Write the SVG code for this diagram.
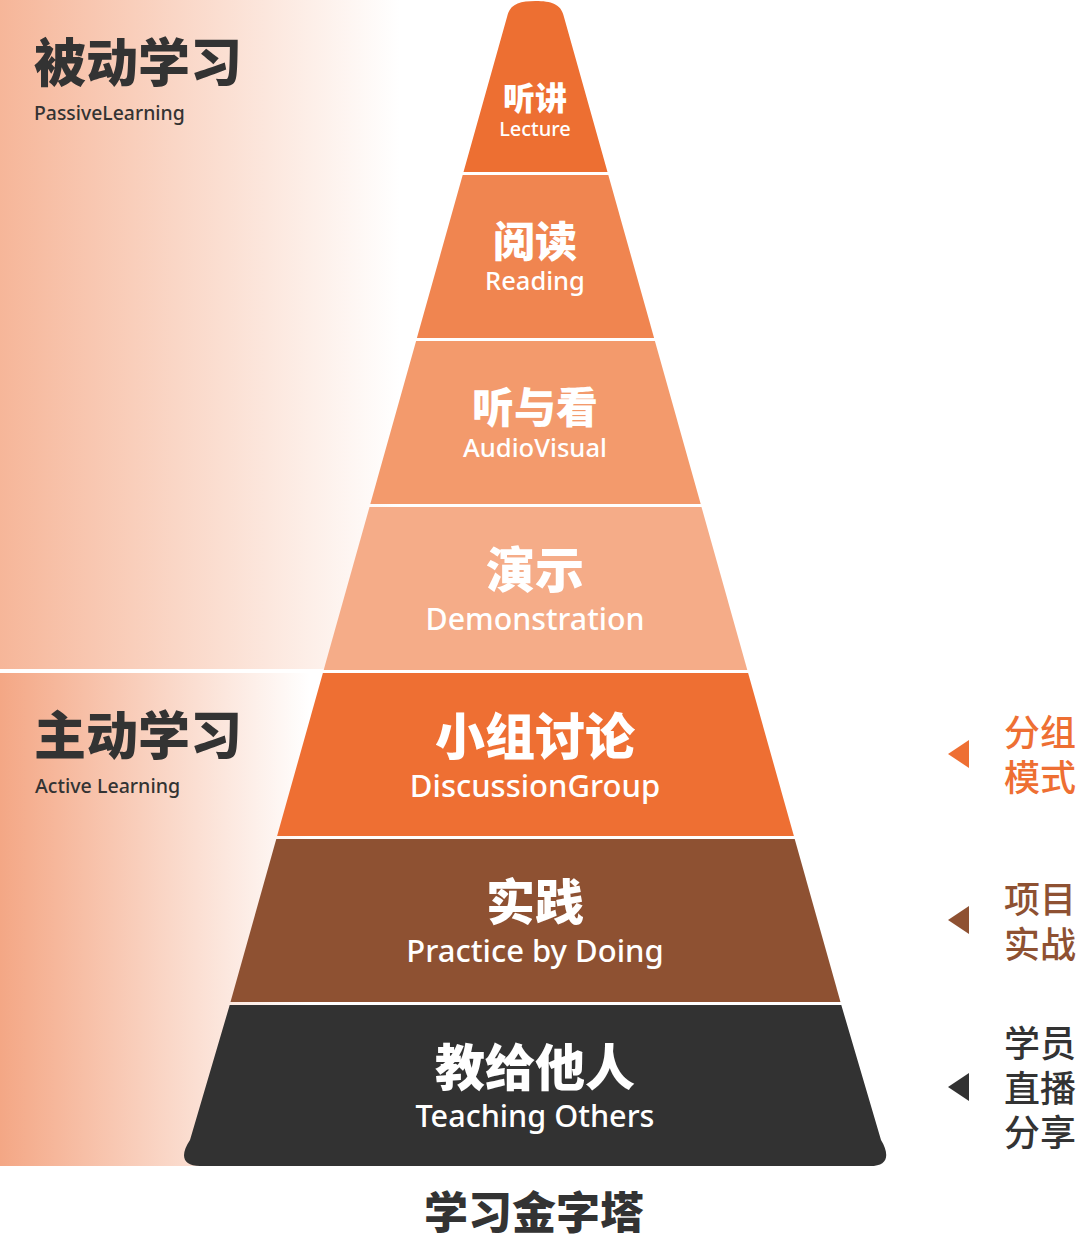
<svg xmlns="http://www.w3.org/2000/svg" width="1080" height="1236" viewBox="0 0 1080 1236">
<defs>
<linearGradient id="bgTop" x1="0" y1="0" x2="1" y2="0">
<stop offset="0" stop-color="#F6B699"/>
<stop offset="1" stop-color="#FFFFFF"/>
</linearGradient>
<linearGradient id="bgBot" x1="0" y1="0" x2="1" y2="0">
<stop offset="0" stop-color="#F4A785"/>
<stop offset="1" stop-color="#FFFFFF"/>
</linearGradient>
<style>
.cn{font-family:"Noto Sans CJK SC",sans-serif;font-weight:900;}
.en{font-family:"Noto Sans","Noto Sans CJK SC",sans-serif;font-weight:500;}
.side{font-family:"Noto Sans CJK SC",sans-serif;font-weight:500;font-size:36px;}
.w{fill:#FFFFFF;text-anchor:middle;}
.dk{fill:#333333;}
</style>
</defs>
<rect width="1080" height="1236" fill="#FFFFFF"/>
<g id="background">
<rect x="0" y="0" width="400" height="669" fill="url(#bgTop)"/>
<rect x="0" y="673" width="310" height="493" fill="url(#bgBot)"/>
</g>
<g id="passive">
<text class="cn dk" x="34" y="82" font-size="52">被动学习</text>
<text class="en dk" x="34" y="120" font-size="19.4" font-weight="400">PassiveLearning</text>
</g>
<g id="active">
<text class="cn dk" x="34" y="755" font-size="52">主动学习</text>
<text class="en dk" x="35" y="793" font-size="19.6" font-weight="400">Active Learning</text>
</g>
<g id="tier1">
<path d="M463.5,172 L507.3,16 C510,4 520,1 535.5,1 C551,1 561,4 563.7,16 L607.5,172 Z" fill="#ED6F32"/>
<text class="cn w" x="535" y="110" font-size="32">听讲</text>
<text class="en w" x="535" y="136" font-size="20">Lecture</text>
</g>
<g id="tier2">
<path d="M462.7,175 L608.3,175 L654.1,338 L416.9,338 Z" fill="#F08550"/>
<text class="cn w" x="535" y="257" font-size="42">阅读</text>
<text class="en w" x="535" y="290" font-size="25.5">Reading</text>
</g>
<g id="tier3">
<path d="M416.1,341 L654.9,341 L700.7,504 L370.3,504 Z" fill="#F39A6C"/>
<text class="cn w" x="535" y="423" font-size="42">听与看</text>
<text class="en w" x="535" y="457" font-size="25.6">AudioVisual</text>
</g>
<g id="tier4">
<path d="M369.5,507 L701.5,507 L747.3,670 L323.7,670 Z" fill="#F5AC88"/>
<text class="cn w" x="535" y="588" font-size="49">演示</text>
<text class="en w" x="535" y="630" font-size="30.3">Demonstration</text>
</g>
<g id="tier5">
<path d="M322.9,673 L748.1,673 L793.9,836 L277.1,836 Z" fill="#EE6F33"/>
<text class="cn w" x="535" y="755" font-size="50">小组讨论</text>
<text class="en w" x="535" y="797" font-size="31">DiscussionGroup</text>
</g>
<g id="tier6">
<path d="M276.3,839 L794.7,839 L840.5,1002 L230.5,1002 Z" fill="#8E5132"/>
<text class="cn w" x="535" y="920" font-size="49">实践</text>
<text class="en w" x="535" y="962" font-size="31">Practice by Doing</text>
</g>
<g id="tier7">
<path d="M229.7,1005 L841.3,1005 L881,1140 C890,1155 888,1166 870,1166 L200,1166 C182,1166 180,1155 190,1140 Z" fill="#323232"/>
<text class="cn w" x="535" y="1086" font-size="50">教给他人</text>
<text class="en w" x="535" y="1127" font-size="30.6">Teaching Others</text>
</g>
<g id="connectors">
<polygon points="948,754 969,740 969,768" fill="#EE6F33"/>
<polygon points="948,920 969,906 969,934" fill="#8E5132"/>
<polygon points="948,1087 969,1073 969,1101" fill="#323232"/>
</g>
<g id="note-group">
<text class="side" x="1004" y="746" fill="#EE6F33">分组</text>
<text class="side" x="1004" y="791" fill="#EE6F33">模式</text>
</g>
<g id="note-project">
<text class="side" x="1004" y="913" fill="#8E5132">项目</text>
<text class="side" x="1004" y="958" fill="#8E5132">实战</text>
</g>
<g id="note-live">
<text class="side" x="1004" y="1057" fill="#333333">学员</text>
<text class="side" x="1004" y="1102" fill="#333333">直播</text>
<text class="side" x="1004" y="1146" fill="#333333">分享</text>
</g>
<g id="title">
<text class="cn dk" x="534" y="1229" font-size="44" text-anchor="middle">学习金字塔</text>
</g>
</svg>
